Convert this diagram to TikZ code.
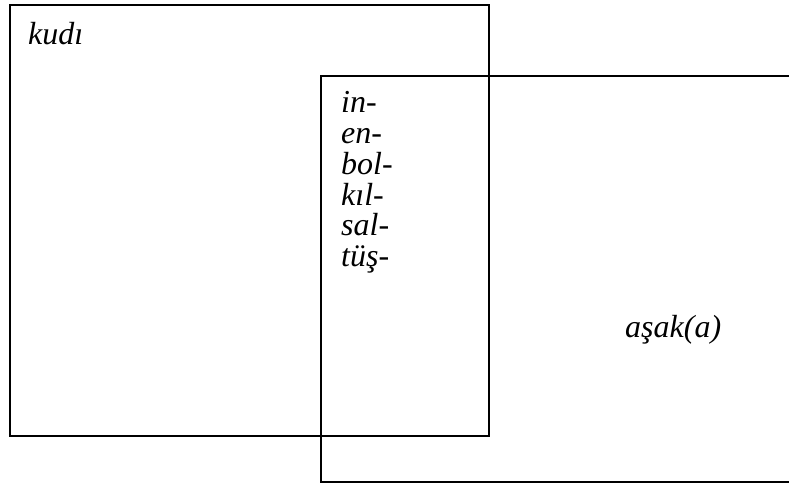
\documentclass[tikz,border=0pt]{standalone}
\usepackage{fontspec}
\setmainfont{Liberation Serif}
\begin{document}
\begin{tikzpicture}[x=1pt,y=-1pt,
  box/.style={draw=black,line width=1.6pt},
  lbl/.style={anchor=base west,inner sep=0pt,font=\fontsize{32}{31}\selectfont\itshape}]
\useasboundingbox (0,0) rectangle (789,487);
\draw[box] (10,5) rectangle (489,436);
\draw[box] (789,76) -- (321,76) -- (321,482) -- (789,482);
\node[lbl] (kudi) at (28,45) {kudı};
\node[lbl] (l1) at (341,112) {in-};
\node[lbl] (l2) at (341,143) {en-};
\node[lbl] (l3) at (341,174) {bol-};
\node[lbl] (l4) at (341,205) {kıl-};
\node[lbl] (l5) at (341,235) {sal-};
\node[lbl] (l6) at (341,266) {tüş-};
\node[lbl] (asak) at (625,337) {aşak(a)};
\end{tikzpicture}
\end{document}
